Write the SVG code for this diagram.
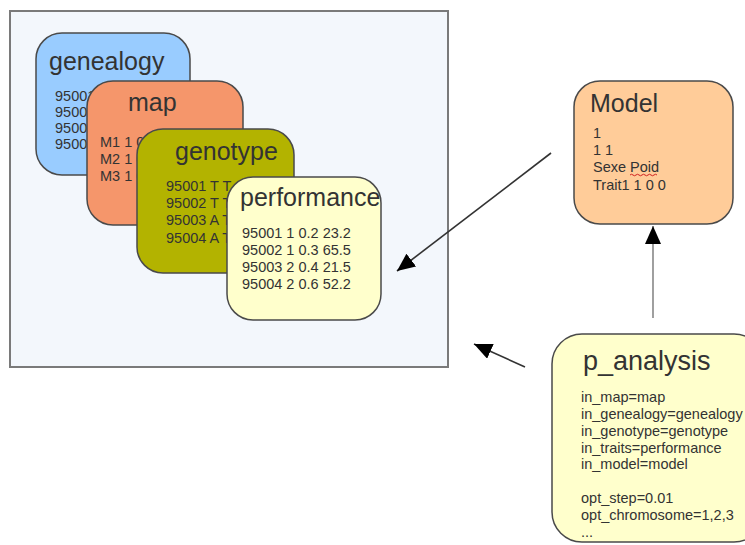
<svg xmlns="http://www.w3.org/2000/svg" width="745" height="545" viewBox="0 0 745 545">
<style>
.box{stroke:#4a4a4a;stroke-width:1.5}
.t{font-family:"Liberation Sans",Arial,sans-serif;font-size:25px;fill:#333}
.d{font-family:"Liberation Sans",Arial,sans-serif;font-size:14.5px;fill:#333}
.c{stroke:#333;stroke-width:1.6;fill:none}
</style>
<defs>
<marker id="ah" markerUnits="userSpaceOnUse" markerWidth="20" markerHeight="16" refX="18" refY="8" orient="auto">
<path d="M0,0 L18,8 L0,16 Z" fill="#000"/>
</marker>
</defs>
<rect width="745" height="545" fill="#fff"/>
<g id="container">
<rect x="10" y="11" width="438" height="356" fill="#f3f7fc" stroke="#7a7a7a" stroke-width="2"/>
</g>
<g id="genealogy">
<rect class="box" x="36" y="33" width="154" height="142" rx="26" fill="#99ccff"/>
<text class="t" x="49" y="70">genealogy</text>
<text class="d" x="55" y="101">95001</text>
<text class="d" x="55" y="117">95002</text>
<text class="d" x="55" y="133">95003</text>
<text class="d" x="55" y="149">95004</text>
</g>
<g id="map">
<rect class="box" x="87" y="81" width="156" height="144" rx="26" fill="#f5966b"/>
<text class="t" x="128" y="111">map</text>
<text class="d" x="100" y="147">M1 1 0</text>
<text class="d" x="100" y="164">M2 1 0</text>
<text class="d" x="100" y="181">M3 1 0</text>
</g>
<g id="genotype">
<rect class="box" x="137" y="129" width="157" height="144" rx="26" fill="#b3b300"/>
<text class="t" x="175" y="160">genotype</text>
<text class="d" x="166" y="191">95001 T T</text>
<text class="d" x="166" y="208">95002 T T</text>
<text class="d" x="166" y="225">95003 A T</text>
<text class="d" x="166" y="243">95004 A T</text>
</g>
<g id="performance">
<rect class="box" x="227" y="177" width="154" height="143" rx="26" fill="#ffffcc"/>
<text class="t" x="240" y="206">performance</text>
<text class="d" x="242" y="238">95001 1 0.2 23.2</text>
<text class="d" x="242" y="255">95002 1 0.3 65.5</text>
<text class="d" x="242" y="272">95003 2 0.4 21.5</text>
<text class="d" x="242" y="289">95004 2 0.6 52.2</text>
</g>
<g id="model">
<rect class="box" x="574" y="81" width="159" height="143" rx="26" fill="#ffcc99"/>
<text class="t" x="590" y="112">Model</text>
<text class="d" x="593" y="138">1</text>
<text class="d" x="593" y="155">1 1</text>
<text class="d" x="593" y="172">Sexe Poid</text>
<text class="d" x="593" y="190">Trait1 1 0 0</text>
<path d="M630,175 q1.5,-1.5 3,0 t3,0 t3,0 t3,0 t3,0 t3,0 t3,0 t3,0 t3,0" stroke="#d02020" stroke-width="1" fill="none"/>
</g>
<g id="p_analysis">
<rect class="box" x="552" y="334" width="212" height="208" rx="30" fill="#ffffcc"/>
<text class="t" x="583" y="370" style="font-size:27px">p_analysis</text>
<text class="d" x="581" y="402">in_map=map</text>
<text class="d" x="581" y="419">in_genealogy=genealogy</text>
<text class="d" x="581" y="436">in_genotype=genotype</text>
<text class="d" x="581" y="453">in_traits=performance</text>
<text class="d" x="581" y="469">in_model=model</text>
<text class="d" x="581" y="503">opt_step=0.01</text>
<text class="d" x="581" y="520">opt_chromosome=1,2,3</text>
<text class="d" x="581" y="537">...</text>
</g>
<g id="connectors">
<line class="c" x1="551" y1="153" x2="397" y2="271" marker-end="url(#ah)"/>
<line class="c" x1="525" y1="367" x2="474" y2="344" marker-end="url(#ah)"/>
<line class="c" x1="653" y1="318" x2="653" y2="226" stroke="#888" style="stroke:#888" marker-end="url(#ah)"/>
</g>
</svg>
